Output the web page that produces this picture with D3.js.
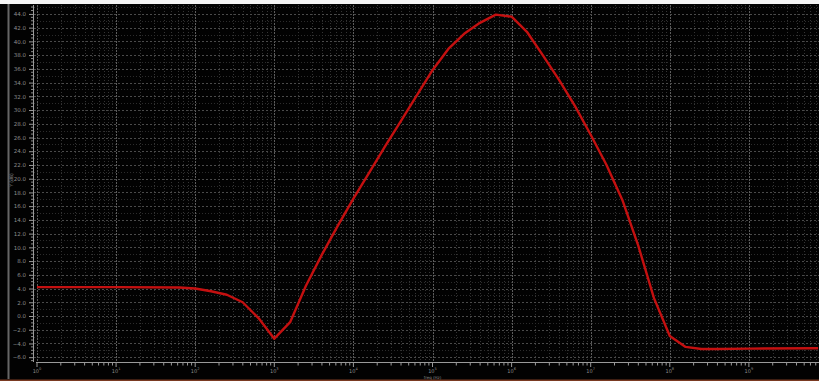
<!DOCTYPE html>
<html>
<head>
<meta charset="utf-8">
<script src="https://cdn.jsdelivr.net/npm/d3@7"></script>
<style>
  html, body { margin: 0; padding: 0; background: #f4f4f4; }
  svg { display: block; }
</style>
</head>
<body>
<svg id="chart" width="819" height="381"></svg>
<script>
// AC sweep: magnitude response in dB vs frequency
const freqHz = [1, 10, 63.1, 100, 158.5, 251.2, 398.1, 631, 1000, 1585, 2512, 3981, 6310,
  1e4, 1.585e4, 2.512e4, 3.981e4, 6.31e4, 1e5, 1.585e5, 2.512e5, 3.981e5, 6.31e5,
  1e6, 1.585e6, 2.512e6, 3.981e6, 6.31e6, 1e7, 1.585e7, 2.512e7, 3.981e7, 6.31e7,
  1e8, 1.585e8, 2.512e8, 3.981e8, 1e9, 7.5e9];
const gainDb = [4.2, 4.2, 4.15, 4.0, 3.6, 3.1, 2.0, -0.3, -3.3, -0.9, 4.4, 8.9, 13.1,
  17.1, 20.9, 24.7, 28.4, 32.1, 35.8, 38.9, 41.1, 42.7, 43.9,
  43.6, 41.3, 37.9, 34.4, 30.6, 26.4, 22.0, 16.9, 10.3, 2.6,
  -2.9, -4.5, -4.8, -4.8, -4.75, -4.7];

const yTicks = [44, 42, 40, 38, 36, 34, 32, 30, 28, 26, 24, 22, 20, 18, 16, 14, 12, 10,
  8, 6, 4, 2, 0, -2, -4, -6];
const xDecades = [0, 1, 2, 3, 4, 5, 6, 7, 8, 9];
const xTitle = "freq (Hz)";
const yTitle = "Y (dB)";

const svg = d3.select("#chart");
const W = 819, H = 381;

// panel background
svg.append("rect").attr("x", 0).attr("y", 4).attr("width", W).attr("height", 376).attr("fill", "#020202");
svg.append("rect").attr("x", 0).attr("y", 379.5).attr("width", W).attr("height", 1.5).attr("fill", "#7a3a22");
svg.append("rect").attr("x", 7.5).attr("y", 4).attr("width", 2).attr("height", 375).attr("fill", "#666");

const x = d3.scaleLog().domain([1, 1e10]).range([37, 828]);
const y = d3.scaleLinear().domain([-6.7, 45.3]).range([362, 5]);

const plotL = 34, plotR = W, plotT = 5, plotB = 362;

const g = svg.append("g");

// vertical grid: every log tick
const minorX = [];
for (let d = 0; d < 10; d++) for (let m = 1; m <= 9; m++) minorX.push(m * Math.pow(10, d));
minorX.push(1e10);
const isDecade = d => Math.abs(Math.log10(d) - Math.round(Math.log10(d))) < 1e-9;
g.append("g").selectAll("line").data(minorX).join("line")
  .attr("x1", d => Math.round(x(d)) + 0.5).attr("x2", d => Math.round(x(d)) + 0.5)
  .attr("y1", plotT).attr("y2", plotB)
  .attr("stroke", d => isDecade(d) ? "#5c5c5c" : "#343434")
  .attr("stroke-width", 1)
  .attr("stroke-dasharray", d => isDecade(d) ? "2,1" : "1,2");

// horizontal grid: one line per dB, brighter at labelled values
const hLines = d3.range(-6, 46, 1);
g.append("g").selectAll("line").data(hLines).join("line")
  .attr("x1", plotL).attr("x2", plotR)
  .attr("y1", d => Math.round(y(d)) + 0.5).attr("y2", d => Math.round(y(d)) + 0.5)
  .attr("stroke", d => d % 2 === 0 ? "#4a4a4a" : "#2c2c2c")
  .attr("stroke-dasharray", d => d % 2 === 0 ? "2,2" : "1,2");

// y axis
const yAxis = d3.axisLeft(y)
  .tickValues(yTicks)
  .tickFormat(d3.format(".1f"))
  .tickSize(4)
  .tickPadding(3);
const ya = svg.append("g").attr("transform", "translate(33,0)").call(yAxis);
ya.select(".domain").attr("stroke", "#9a9a9a").attr("d", `M0.5,${plotT}V${plotB}`);
ya.selectAll(".tick line").attr("stroke", "#9a9a9a");
ya.selectAll(".tick text").attr("fill", "#8c8c8c").attr("font-size", 5.5)
  .attr("font-family", "DejaVu Sans, sans-serif");
// minor ticks on y
const yMinor = d3.range(-6.5, 45.1, 0.5).filter(v => v % 2 !== 0);
ya.append("g").selectAll("line").data(yMinor).join("line")
  .attr("x1", -2).attr("x2", 0)
  .attr("y1", d => y(d)).attr("y2", d => y(d))
  .attr("stroke", "#8a8a8a");

// x axis
const xAxis = d3.axisBottom(x).tickValues(minorX).tickSize(0).tickFormat("");
const xa = svg.append("g").attr("transform", `translate(0,${plotB})`).call(xAxis);
xa.select(".domain").attr("stroke", "#9a9a9a").attr("d", `M36,0.5H${W}`);
xa.append("g").selectAll("line").data(minorX).join("line")
  .attr("x1", d => x(d)).attr("x2", d => x(d))
  .attr("y1", 0).attr("y2", d => isDecade(d) ? 5 : 3.5)
  .attr("stroke", "#9a9a9a");
const xl = xa.append("g").selectAll("text").data(xDecades).join("text")
  .attr("x", d => x(Math.pow(10, d)))
  .attr("y", 10.5)
  .attr("text-anchor", "middle")
  .attr("fill", "#8c8c8c")
  .attr("font-size", 5)
  .attr("font-family", "DejaVu Sans, sans-serif");
xl.append("tspan").text("10");
xl.append("tspan").attr("dy", -2.2).attr("font-size", 3.6).text(d => d);

// axis titles
svg.append("text").attr("x", x(1e5)).attr("y", 379)
  .attr("text-anchor", "middle").attr("fill", "#8c8c8c")
  .attr("font-size", 4).attr("font-family", "DejaVu Sans, sans-serif").text(xTitle);
svg.append("text").attr("transform", `translate(13,180) rotate(-90)`)
  .attr("text-anchor", "middle").attr("fill", "#8c8c8c")
  .attr("font-size", 4.5).attr("font-family", "DejaVu Sans, sans-serif").text(yTitle);

// response trace
const line = d3.line().x(d => x(d[0])).y(d => y(d[1]));
svg.append("path")
  .datum(freqHz.map((f, i) => [f, gainDb[i]]))
  .attr("d", line)
  .attr("fill", "none")
  .attr("stroke", "#c41010")
  .attr("stroke-width", 2.4)
  .attr("stroke-linejoin", "round");
</script>
</body>
</html>
